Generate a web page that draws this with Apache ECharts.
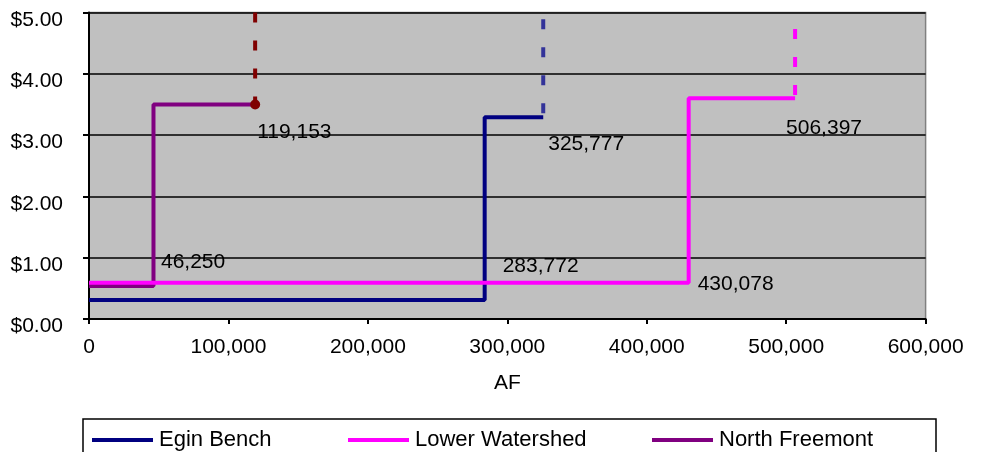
<!DOCTYPE html>
<html><head><meta charset="utf-8">
<script src="https://cdn.jsdelivr.net/npm/echarts@6/dist/echarts.min.js"></script>
<style>html,body{margin:0;padding:0;background:#fff}#c{width:982px;height:452px}</style>
</head><body><div id="c"></div>
<script>
// ---- data ----
const seriesNames = ['Egin Bench', 'Lower Watershed', 'North Freemont'];
const eginBreaks = [283772, 325777];
const eginPrices = [0.31, 3.29];
const eginCap = 4.89;
const lowerBreaks = [430078, 506397];
const lowerPrices = [0.59, 3.60];
const lowerCap = 4.73;
const northBreaks = [46250, 119153];
const northPrices = [0.54, 3.50];
const northCap = 5.00;
const xTicks = [0, 100000, 200000, 300000, 400000, 500000, 600000];
const yTicks = [0, 1, 2, 3, 4, 5];

const FONT = '"Liberation Sans", Arial, sans-serif';
const fmt = v => Math.round(v).toLocaleString('en-US');

function lbl(offset) {
  return { show: true, position: 'right', distance: 0, offset: offset,
    formatter: p => fmt(p.value[0]), color: '#000', fontSize: 21, fontFamily: FONT };
}
function stepData(breaks, prices, offs) {
  return [
    [0, prices[0]],
    { value: [breaks[0], prices[0]], label: lbl(offs[0]) },
    [breaks[0], prices[1]],
    { value: [breaks[1], prices[1]], label: lbl(offs[1]) }
  ];
}
function solid(name, color, data) {
  return { name, type: 'line', data, symbol: 'circle', symbolSize: 0, showSymbol: true,
    lineStyle: { color, width: 4 }, itemStyle: { color }, z: 3, silent: true };
}
function dashed(name, color, x, from, to, marker) {
  return { name: name + ' cap', type: 'line', symbol: 'circle', symbolSize: 0,
    data: [[x, to], marker ? { value: [x, from], symbolSize: 10, itemStyle: { color } } : [x, from]],
    lineStyle: { color, width: 4, type: [10, 18] }, itemStyle: { color }, z: 4, silent: true };
}

const chart = echarts.init(document.getElementById('c'), null, { renderer: 'canvas' });
chart.setOption({
  animation: false,
  grid: { left: 89, right: 56.4, top: 12.5, bottom: 133, show: true,
    backgroundColor: '#C0C0C0', borderColor: '#808080', borderWidth: 1.5 },
  xAxis: {
    type: 'value', min: xTicks[0], max: xTicks[xTicks.length - 1], interval: 100000,
    name: 'AF', nameLocation: 'middle', nameGap: 54,
    nameTextStyle: { fontSize: 21, fontFamily: FONT, color: '#000' },
    axisLine: { show: true, lineStyle: { color: '#000', width: 2 } },
    axisTick: { show: true, length: 5, lineStyle: { color: '#000', width: 2 } },
    axisLabel: { fontSize: 21, fontFamily: FONT, color: '#000', margin: 18, formatter: v => fmt(v) },
    splitLine: { show: false }
  },
  yAxis: {
    type: 'value', min: yTicks[0], max: yTicks[yTicks.length - 1], interval: 1,
    axisLine: { show: true, lineStyle: { color: '#000', width: 2 } },
    axisTick: { show: true, length: 6, lineStyle: { color: '#000', width: 2 } },
    axisLabel: { fontSize: 21, fontFamily: FONT, color: '#000', margin: 26,
      verticalAlign: 'top', lineHeight: 15, formatter: v => '$' + v.toFixed(2) },
    splitLine: { show: true, lineStyle: { color: '#000', width: 1.6 } }
  },
  legend: [0, 1, 2].map((i) => ({
    data: [seriesNames[i]], left: [92, 348, 652][i], top: 429, padding: 0,
    icon: 'rect', itemWidth: 61, itemHeight: 4, itemGap: 0,
    textStyle: { fontSize: 22, fontFamily: FONT, color: '#000', padding: [2, 0, 0, 1] },
    selectedMode: false
  })),
  graphic: [{ type: 'rect', shape: { x: 83, y: 419, width: 853, height: 60 },
    style: { fill: null, stroke: '#000', lineWidth: 1.5 }, z: 10 }],
  series: [
    solid(seriesNames[0], '#000080', stepData(eginBreaks, eginPrices, [[18, -34], [5, 27]])),
    solid(seriesNames[2], '#800080', stepData(northBreaks, northPrices, [[7.5, -24], [2, 27.5]])),
    solid(seriesNames[1], '#FF00FF', stepData(lowerBreaks, lowerPrices, [[9, 1], [-9, 30]])),
    dashed(seriesNames[0], '#333399', eginBreaks[1], eginPrices[1], eginCap, false),
    dashed(seriesNames[1], '#FF00FF', lowerBreaks[1], lowerPrices[1], lowerCap, false),
    dashed(seriesNames[2], '#800000', northBreaks[1], northPrices[1], northCap, true)
  ]
});
</script></body></html>
